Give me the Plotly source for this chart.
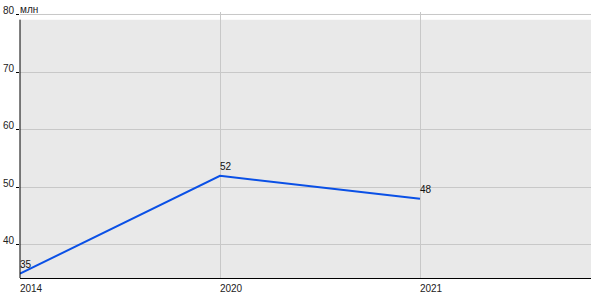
import plotly.graph_objects as go

years = ["2014", "2020", "2021"]
values = [35, 52, 48]
labels = ["35", "52", "48"]
y_ticks = [40, 50, 60, 70, 80]
unit = "млн"

y_lo, y_top_bg, y_hi = 34.25, 79.1, 80.43
x_hi = 2.855
font = dict(family="Liberation Sans, Arial", size=10, color="#111")

fig = go.Figure()
fig.add_trace(go.Scatter(
    x=years, y=values, mode="lines",
    line=dict(color="#0a50e6", width=2), hoverinfo="skip", showlegend=False,
))
# category axis: annotation positions by category index
for i, (v, t) in enumerate(zip(values, labels)):
    fig.add_annotation(x=i, y=v, text=t, showarrow=False, xanchor="left",
                       yanchor="bottom", xshift=-2, yshift=2, font=font)

# gray plotting panel (below gridlines)
fig.add_shape(type="rect", xref="x", yref="y", x0=-0.5, x1=x_hi + 0.5,
              y0=y_lo - 1, y1=y_top_bg, fillcolor="#e9e9e9",
              line=dict(width=0), layer="below")
# top gridline (outside the panel)
fig.add_shape(type="line", xref="paper", yref="y", x0=0, x1=1,
              y0=y_ticks[-1], y1=y_ticks[-1], line=dict(color="#c8c8c8", width=1),
              layer="below")
# left axis line
fig.add_shape(type="line", xref="paper", yref="y", x0=0, x1=0,
              y0=y_lo, y1=y_top_bg, line=dict(color="black", width=1),
              layer="above")

fig.add_annotation(xref="paper", yref="y", x=0, y=y_ticks[-1], text=unit,
                   showarrow=False, xanchor="left", yanchor="bottom",
                   xshift=-2, yshift=-3,
                   font=dict(family="Liberation Sans, Arial", size=10, color="#222"))

fig.update_layout(
    width=600, height=300,
    margin=dict(l=20, r=9, t=12, b=22, autoexpand=False),
    paper_bgcolor="white", plot_bgcolor="white",
    font=dict(family="Liberation Sans, Arial", size=10, color="#222"),
    xaxis=dict(type="category", categoryorder="array", categoryarray=years,
               range=[0, x_hi], showgrid=True, gridcolor="#c8c8c8", gridwidth=1,
               showline=True, linecolor="black", linewidth=1, automargin=False,
               ticks="", ticklabelshift=11, ticklabelstandoff=1,
               zeroline=False, fixedrange=True),
    yaxis=dict(range=[y_lo, y_hi], tickvals=y_ticks, automargin=False,
               showgrid=True, gridcolor="#c8c8c8", gridwidth=1,
               showline=False, ticks="outside", ticklen=3, tickcolor="black",
               ticklabelshift=-4, ticklabelstandoff=0, zeroline=False, fixedrange=True),
)

fig.write_html("out.html")
